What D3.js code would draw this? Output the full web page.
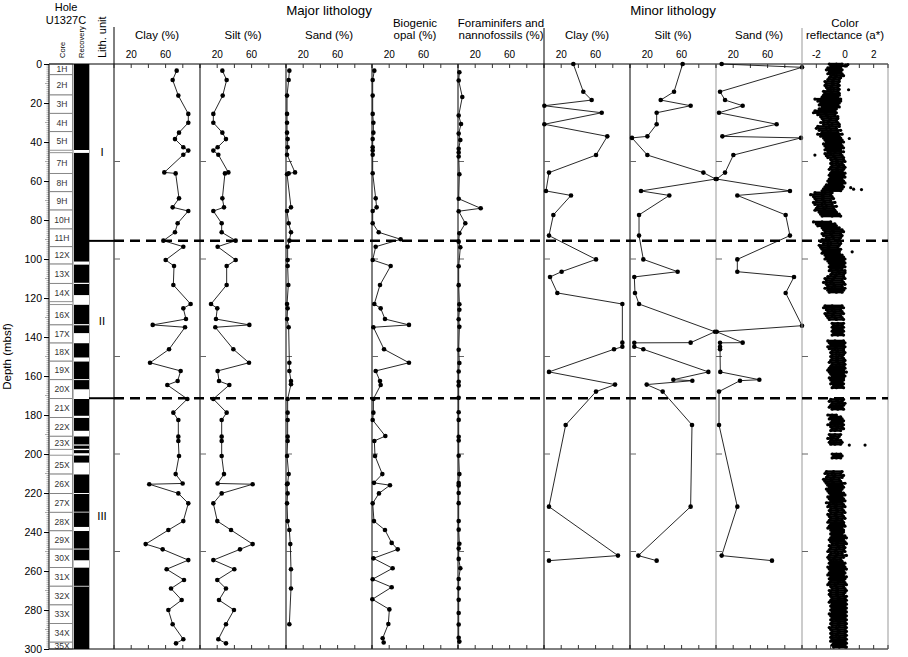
<!DOCTYPE html>
<html><head><meta charset="utf-8">
<script src="https://cdn.jsdelivr.net/npm/d3@7/dist/d3.min.js"></script>
<style>body{margin:0;background:#fff}svg{display:block;font-family:"Liberation Sans",Arial,Helvetica,sans-serif}</style>
</head><body><svg id="c" width="908" height="657"></svg>
<script>
// ---------- DATA (depth in mbsf, value) ----------
const majorClay = [[3.4,72.9],[8.2,68.2],[16.2,74.8],[25.6,86.4],[30.1,86.4],[35.2,75.6],[38.5,70.9],[42.7,80.6],[44.4,86.4],[46.5,80.6],[55.6,58.5],[56.1,71.7],[68.9,75.6],[73.5,68.2],[75.4,86.4],[81.7,74],[86.3,70.9],[90.6,57.4],[93.7,80.6],[100.5,60.1],[103.6,69.8],[113.3,69],[123.1,89.1],[125.3,80.6],[130.8,83.7],[133.8,45],[135,82.6],[146.3,64],[153.2,41.9],[157.4,77.5],[162.6,74],[164.6,62],[171.8,85.3],[178.8,69],[182.6,74.8],[191.1,74.8],[193.3,74.8],[201,75.6],[210.3,71.7],[215.1,79.8],[215.5,41],[220.2,74.8],[225.3,86.4],[234.4,80.6],[239,63.2],[246.2,36.8],[248.9,56.6],[254.4,86.4],[259.1,61.2],[264.6,81.4],[269,66.3],[274.9,78.7],[280,63.2],[287.3,68.2],[295,80.6],[297.1,72.1]];
const majorSilt = [[3.4,26],[8.2,31],[16.2,26.4],[25.6,15.5],[30.1,15.5],[35.2,26],[38.5,30.2],[42.7,20.5],[44.4,15.5],[46.5,21.3],[55.6,33],[56.1,29],[68.9,26],[73.5,27.9],[75.4,15.5],[81.7,25.2],[86.3,25.2],[90.6,41.5],[93.7,20.5],[100.5,41.5],[103.6,31],[113.3,31],[123.1,12.8],[125.3,20.1],[130.8,18.6],[133.8,57.4],[135,17.8],[146.3,38.8],[153.2,57],[157.4,20.5],[162.6,22.1],[164.6,34.1],[171.8,15.5],[178.8,31],[182.6,25.2],[191.1,25.2],[193.3,25.2],[201,25.2],[210.3,27.9],[215.1,20.5],[215.5,61.2],[220.2,25.2],[225.3,15.5],[234.4,20.1],[239,36.1],[246.2,61.2],[248.9,46.5],[254.4,15.5],[259.1,39.9],[264.6,20.1],[269,30.2],[274.9,22.1],[280,39.5],[287.3,30.2],[295,21.3],[297.1,30.2]];
const majorSand = [[3.4,3.9],[8.2,3.1],[16.2,1.2],[25.6,1.2],[30.1,1.2],[35.2,1.2],[38.5,1.9],[42.7,1.9],[46.5,1.2],[55.6,10.5],[56.1,3.1],[56.5,1.2],[73.5,5.8],[75.4,1.2],[81.7,3.1],[86.3,5.8],[90.6,3.9],[93.7,1.9],[100.5,1.9],[103.6,1.9],[113.3,2.7],[123.1,1.2],[125.3,1.9],[130.8,1.2],[135,3.1],[153.2,3.9],[157.4,3.9],[162.6,5.8],[164.2,5.8],[171.8,1.9],[178.8,1.9],[182.6,1.9],[191.1,1.9],[193.3,1.9],[201,1.2],[210.3,3.1],[215.1,1.9],[215.5,1.2],[220.2,1.9],[225.3,1.2],[234.4,1.9],[239,3.9],[246.2,5],[259.1,5.8],[269,5.8],[287.3,3.9]];
const biogenicOpal = [[3.4,2.7],[8.2,0.8],[16.2,0.8],[25.6,0.8],[30.1,1.6],[35.2,1.6],[38.5,0.8],[42.7,0.8],[44.4,0.8],[46.5,0.8],[56,0.8],[68.9,4.3],[73.5,5.4],[75.4,0.8],[81.7,0.8],[86.3,7.8],[89.9,33.3],[93.7,4.3],[100.5,0.8],[103.6,21.7],[113.3,9.3],[123.1,2.7],[125.3,10.1],[130.8,15.1],[133.8,43],[135,1.6],[146.3,14],[153.2,43],[157.4,4.3],[162.6,9.3],[164.6,10.1],[171.8,1.6],[178.8,1.6],[182.6,0.8],[190.8,15.5],[193.3,2.7],[201,3.5],[210.3,12],[214.8,2.3],[216,20.9],[220.2,8.1],[225.3,0.8],[234.4,2.3],[239,15.1],[245.6,22.9],[248.9,29.9],[253.5,1.6],[258.6,24],[264.2,0.8],[268.3,22.9],[274.5,0.4],[279.7,20.2],[287.2,19],[294.5,12.4],[296.7,13.6]];
const foramNanno = [[4.2,1.6],[8.5,0.8],[16.9,5],[26.4,0.8],[30.8,3.5],[35.7,0.8],[39,2.7],[43.5,0.8],[45.4,0.8],[47.4,0.8],[56.5,1.6],[69.1,0.8],[74,26.4],[75.5,0.8],[81.7,8.5],[86.8,1.6],[91.1,0.8],[94,2.7],[103.7,0.8],[113.4,0.8],[123.2,1.6],[126,1.6],[130.9,0.8],[134.8,1.6],[146.5,0.8],[153.3,1.6],[157.7,0.8],[163,0.8],[164.9,0.8],[171.2,0.8],[178.6,0.8],[182.5,0.8],[191.2,0.8],[193.1,0.8],[200.9,0.8],[210.3,1.6],[214.9,0.8],[216.1,0.8],[220,0.8],[225.2,0.8],[234.4,0.8],[238.8,0.8],[246,1.6],[248.5,0.8],[253.8,0.8],[258.6,2.7],[264.1,0.8],[268.9,0.8],[274.8,0.8],[281.5,0.8],[287.4,0.8],[294.2,0.8],[296.2,1.6]];
const minorClay = [[0,34.1],[14.2,45.7],[18.5,55.4],[21.4,0.4],[25,67.1],[30.9,0.4],[37.1,73.6],[46.7,60.5],[55.7,5.8],[65.1,2.3],[67.4,31.4],[77.4,10.9],[88,5.8],[100.2,60.5],[106.5,20.5],[109.2,7],[117.4,15.5],[123.1,91.1],[142.9,91.1],[145,91.1],[146.3,81.4],[157.9,5.8],[164.4,82.6],[168,60.5],[185.1,25.2],[227,5.8],[252.1,86],[254.7,5.8]];
const minorSilt = [[0,61.2],[14.2,51.2],[18.5,35.7],[21.4,70.5],[25,31],[30.9,31],[37.1,20.2],[37.9,2.3],[46.7,20.2],[55.7,85.3],[59,99.6],[65.1,12.8],[67.4,45.7],[77.4,10.5],[88,10.5],[100.2,15.5],[106.5,55.4],[109.2,5],[117.4,5.8],[123.1,10.5],[137.3,98.8],[142.9,70.5],[143,5],[145,5],[146.3,15.5],[157.9,91.1],[161.9,50.4],[162.4,72.5],[164.4,19.4],[168,38],[185.1,72.1],[227,70.5],[252.1,9.7],[254.7,31]];
const minorSand = [[0,6.6],[1.7,100],[14.2,4.7],[18.5,10.5],[21.4,31],[25,3.5],[30.9,70.5],[37.1,7.4],[37.9,98.8],[46.7,20.2],[55.7,10.5],[59,0.8],[65.1,86],[67.4,24.8],[77.4,81],[88,86],[100.2,24.8],[106.5,24.8],[109.2,90.7],[117.4,81],[134.2,100],[137.3,0.8],[142.9,31],[143,4.7],[145,4.7],[146.3,4.7],[157.9,5],[161.9,50.4],[162.4,27.9],[168,3.5],[185.1,3.5],[227,24.8],[252.1,6.6],[254.7,65.1]];

// Color reflectance a*: [depth, value, value, value] read along the cloud
const reflectance = [
[0,-1.1,-0.6,-0.2],[1,-1.0,-0.7,0.1],[2,-1.2,-0.8,-0.3],[3,-1.3,-0.6,-0.2],[4,-1.1,-0.7,-0.3],[5,-1.2,-0.8,-0.2],[6,-1.0,-0.6,-0.1],[7,-1.1,-0.7,-0.3],[8,-1.2,-0.8,-0.4],[9,-1.4,-0.9,-0.4],
[10,-1.3,-0.8,-0.5],[11,-1.4,-0.9,-0.4],[12,-1.3,-1.0,-0.5],[13,-1.2,-0.8,-0.4],[14,-1.5,-1.0,-0.5],[15,-1.4,-0.9,-0.4],[16,-1.5,-1.1,-0.4],[17,-1.6,-1.0,-0.5],[18,-2.1,-1.2,-0.3],[19,-1.9,-1.3,-0.3],
[20,-1.7,-1.1,-0.4],[21,-1.8,-1.2,-0.5],[22,-1.6,-1.0,-0.4],[23,-1.8,-1.3,-0.6],[24,-2.1,-1.5,-0.7],[25,-2.2,-1.4,-0.6],[26,-1.9,-1.3,-0.7],[27,-1.7,-1.2,-0.5],[28,-1.6,-1.0,-0.5],[29,-1.5,-1.1,-0.6],
[30,-1.7,-1.2,-0.5],[31,-1.5,-0.9,-0.4],[32,-1.9,-1.1,-0.4],[33,-2.0,-1.3,-0.6],[34,-1.8,-1.0,-0.3],[35,-1.6,-1.2,-0.5],[36,-1.9,-1.1,-0.2],[37,-1.7,-1.0,-0.4],[38,-1.5,-0.9,-0.3],[39,-1.4,-0.8,-0.2],
[40,-1.3,-0.9,-0.1],[41,-1.5,-1.0,-0.3],[42,-1.4,-0.8,-0.2],[43,-1.3,-0.7,-0.1],[44,-1.4,-0.9,-0.3],[45,-1.2,-0.7,-0.1],[46,-1.4,-1.0,-0.3],[47,-1.3,-0.8,-0.2],[48,-1.2,-0.7,-0.1],[49,-1.0,-0.6,-0.1],
[50,-0.9,-0.5,0.0],[51,-1.0,-0.6,-0.2],[52,-0.9,-0.4,-0.1],[53,-1.0,-0.5,0.0],[54,-1.1,-0.6,-0.1],[55,-0.9,-0.5,-0.2],[56,-1.0,-0.4,0.0],[57,-1.1,-0.6,-0.1],[58,-1.0,-0.5,0.0],[59,-1.1,-0.7,-0.2],
[60,-1.2,-0.6,-0.1],[61,-1.1,-0.5,0.0],[62,-1.3,-0.8,-0.2],[63,-1.4,-0.8,-0.1],[64,-1.5,-0.9,-0.2],[65,-1.6,-1.0,-0.3],[66,-2.1,-1.4,-0.9],[67,-2.4,-1.6,-1.0],[68,-2.2,-1.5,-0.9],[69,-2.1,-1.6,-0.8],
[70,-2.0,-1.5,-1.0],[71,-2.2,-1.4,-0.7],[72,-2.1,-1.6,-0.9],[73,-1.9,-1.3,-0.6],[74,-2.0,-1.5,-0.8],[75,-2.1,-1.4,-0.7],[76,-1.8,-1.2,-0.6],[77,-1.7,-1.1,-0.4],[78,-1.6,-0.9,-0.3],
[81,-2.2,-1.6,-1.0],[82,-2.0,-1.4,-0.7],[83,-1.9,-1.2,-0.6],[84,-1.6,-1.0,-0.4],[85,-1.5,-0.9,-0.2],[86,-1.4,-0.8,-0.1],[87,-1.6,-1.0,-0.3],[88,-1.5,-0.9,-0.2],[89,-1.3,-0.8,-0.3],
[90,-1.6,-1.1,-0.4],[91,-1.7,-1.2,-0.5],[92,-1.5,-1.0,-0.3],[93,-1.8,-1.2,-0.4],[94,-1.7,-1.1,-0.5],[95,-1.6,-1.2,-0.3],[96,-1.5,-1.0,-0.4],[97,-1.6,-1.1,-0.4],[98,-1.4,-0.9,-0.2],[99,-1.3,-0.8,-0.1],
[100,-1.4,-0.9,0.0],[101,-1.2,-0.7,-0.1],[102,-1.1,-0.6,0.0],[103,-1.0,-0.5,-0.1],[104,-1.1,-0.7,0.0],[105,-1.0,-0.6,-0.2],[106,-1.1,-0.5,0.0],[107,-0.9,-0.4,0.0],[108,-1.0,-0.6,-0.1],[109,-1.2,-0.7,-0.1],
[110,-1.4,-0.8,0.0],[111,-1.3,-0.9,-0.2],[112,-1.5,-1.0,-0.1],[113,-1.3,-0.8,0.0],[114,-1.2,-0.7,-0.2],[115,-1.4,-0.9,0.0],[116,-1.2,-0.8,-0.1],[117,-1.1,-0.6,-0.2],
[124,-1.4,-0.9,-0.2],[125,-1.5,-0.8,-0.1],[126,-1.3,-0.9,-0.3],[127,-1.2,-0.7,-0.2],[128,-1.4,-0.8,-0.1],[129,-1.3,-0.9,-0.3],[130,-1.2,-0.7,-0.2],[131,-1.1,-0.6,-0.1],
[133,-0.9,-0.5,-0.1],[134,-0.8,-0.5,-0.2],[135,-0.9,-0.6,-0.1],[136,-0.8,-0.4,-0.2],[137,-0.9,-0.5,-0.1],[138,-0.8,-0.6,-0.2],[139,-0.9,-0.5,-0.1],
[142,-1.2,-0.7,-0.1],[143,-1.1,-0.6,0.0],[144,-1.0,-0.5,-0.1],[145,-1.2,-0.6,0.0],[146,-1.1,-0.7,-0.1],[147,-0.9,-0.5,-0.1],[148,-1.0,-0.6,0.0],[149,-0.9,-0.4,-0.1],
[150,-1.0,-0.6,-0.2],[151,-0.9,-0.5,-0.1],[152,-1.0,-0.6,0.0],[153,-1.1,-0.5,-0.1],[154,-0.9,-0.4,0.0],[155,-1.0,-0.6,-0.1],[156,-1.1,-0.7,0.0],[157,-1.2,-0.6,-0.1],[158,-1.1,-0.5,0.1],[159,-1.0,-0.6,-0.1],
[160,-0.9,-0.5,0.0],[161,-1.1,-0.7,-0.1],[162,-1.0,-0.5,-0.1],[163,-0.9,-0.6,-0.2],[164,-1.0,-0.5,-0.1],[165,-0.8,-0.5,-0.2],[166,-0.9,-0.6,-0.1],
[172,-1.0,-0.6,-0.1],[173,-1.1,-0.5,-0.2],[174,-0.9,-0.4,0.0],[175,-1.0,-0.6,-0.1],[176,-1.1,-0.7,-0.2],[177,-0.9,-0.5,-0.1],
[180,-1.2,-0.9,-0.6],[181,-1.0,-0.7,-0.3],[182,-1.1,-0.6,-0.2],[183,-0.9,-0.5,-0.1],[184,-1.0,-0.6,-0.2],[185,-1.2,-0.7,-0.1],[186,-1.0,-0.5,-0.2],[187,-0.9,-0.6,-0.1],[188,-1.0,-0.7,-0.3],
[190,-1.1,-0.7,-0.3],[191,-1.0,-0.8,-0.4],[192,-1.2,-0.9,-0.5],[193,-1.0,-0.6,-0.3],[194,-1.1,-0.8,-0.2],[195,-1.0,-0.7,-0.3],
[200,-0.9,-0.6,-0.3],[201,-0.8,-0.5,-0.2],[202,-0.9,-0.6,-0.3],
[209,-1.3,-0.8,-0.2],[210,-1.4,-0.9,-0.3],[211,-1.2,-0.7,-0.1],[212,-1.3,-0.8,-0.2],[213,-1.5,-1.0,-0.4],[214,-1.4,-0.9,-0.3],[215,-1.3,-0.8,0.0],[216,-1.2,-0.7,-0.2],[217,-1.1,-0.6,-0.1],[218,-1.3,-0.8,-0.2],[219,-1.2,-0.7,-0.3],
[220,-1.1,-0.6,-0.1],[221,-1.0,-0.5,0.0],[222,-1.2,-0.7,-0.2],[223,-1.1,-0.6,-0.1],[224,-1.0,-0.5,0.0],[225,-1.3,-0.8,-0.2],[226,-1.1,-0.6,-0.1],[227,-1.2,-0.7,0.0],[228,-1.0,-0.6,-0.2],[229,-1.1,-0.5,-0.1],
[230,-1.0,-0.6,0.0],[231,-1.2,-0.7,-0.2],[232,-1.1,-0.6,-0.1],[233,-1.0,-0.5,0.0],[234,-1.1,-0.6,-0.2],[235,-1.2,-0.7,-0.1],[236,-1.0,-0.5,-0.1],[237,-1.1,-0.6,0.0],[238,-1.2,-0.8,-0.2],[239,-1.0,-0.6,-0.1],
[240,-0.9,-0.5,-0.1],[241,-1.0,-0.6,-0.2],[242,-0.9,-0.5,0.0],[243,-1.0,-0.4,0.1],[244,-1.1,-0.6,-0.1],[245,-1.0,-0.5,0.0],[246,-0.9,-0.6,0.1],[247,-1.1,-0.5,-0.1],[248,-1.0,-0.4,0.0],[249,-1.1,-0.6,-0.1],
[250,-1.2,-0.7,0.0],[251,-1.0,-0.5,-0.2],[252,-1.1,-0.6,0.1],[253,-1.2,-0.7,-0.1],[254,-1.1,-0.8,-0.3],[255,-1.0,-0.6,-0.2],[256,-1.1,-0.5,0.0],[257,-1.0,-0.6,-0.1],[258,-1.2,-0.7,0.0],[259,-1.1,-0.6,0.1],
[260,-1.0,-0.5,-0.1],[261,-1.1,-0.6,0.0],[262,-1.2,-0.7,-0.1],[263,-1.0,-0.5,0.1],[264,-1.1,-0.6,0.0],[265,-1.0,-0.4,-0.1],[266,-1.1,-0.5,0.0],[267,-1.2,-0.7,0.1],[268,-1.0,-0.6,-0.1],[269,-0.9,-0.5,0.0],
[270,-1.1,-0.6,0.1],[271,-1.0,-0.5,0.0],[272,-1.1,-0.6,-0.1],[273,-1.0,-0.5,0.1],[274,-0.9,-0.4,0.0],[275,-1.0,-0.5,0.1],[276,-1.1,-0.6,0.0],[277,-0.9,-0.4,0.1],[278,-1.0,-0.5,0.0],[279,-0.9,-0.4,0.1],
[280,-1.0,-0.6,0.0],[281,-0.9,-0.5,0.1],[282,-1.1,-0.5,0.0],[283,-1.0,-0.4,0.1],[284,-0.9,-0.5,0.0],[285,-1.0,-0.6,0.1],[286,-0.9,-0.4,0.0],[287,-1.0,-0.5,0.1],[288,-0.9,-0.4,0.0],[289,-1.1,-0.6,0.1],
[290,-1.0,-0.5,0.0],[291,-0.9,-0.4,0.1],[292,-1.0,-0.5,0.0],[293,-0.9,-0.6,0.1],[294,-1.0,-0.4,0.0],[295,-0.9,-0.5,0.1],[296,-1.0,-0.6,0.0],[297,-0.8,-0.4,0.1],[298,-0.9,-0.5,0.0],[299,-0.8,-0.4,0.1]];
const reflectanceOutliers = [[0.3,0.2],[0.5,0.05],[13.2,0.25],[38.2,0.3],[46.7,-2.1],[63.4,0.4],[64.2,0.6],[64.4,1.15],[96.3,0.5],[195.4,0.3],[195.4,1.4]];

// Cores: [label, top, bottom]
const cores = [["1H",0,5.5],["2H",5.5,15.9],["3H",15.9,25.3],["4H",25.3,34.7],["5H",34.7,44.2],["7H",45.5,56.1],["8H",56.1,65.5],["9H",65.5,74.9],["10H",74.9,84.6],["11H",84.6,93.7],["12X",93.7,102.6],["13X",102.6,112.5],["14X",112.5,121.9],["16X",123.4,133.8],["17X",133.8,143.1],["18X",143.1,152.4],["19X",152.4,161.9],["20X",161.9,171.6],["21X",171.6,181.3],["22X",181.3,190.9],["23X",190.9,197.6],["25X",200.6,210.3],["26X",210.3,220.3],["27X",220.3,229.9],["28X",229.9,239.4],["29X",239.4,248.8],["30X",248.8,258.2],["31X",258.2,267.8],["32X",267.8,277.4],["33X",277.4,286.9],["34X",286.9,296.5],["35X",296.5,300]];
// Recovered intervals [top, bottom]
const recovery = [[0,44.1],[45.6,101.3],[102.9,112.2],[112.8,118.5],[123.5,133.4],[134,138],[143.2,150.5],[152.6,161.6],[162.1,166.8],[171.8,180.4],[181.5,188.1],[191,195.1],[195.7,197.3],[198,199.6],[200.8,204.4],[210.5,220],[220.5,229.6],[230,237.4],[239.5,248.5],[249,254.5],[258.3,267.6],[268,300]];
const lithUnits = [["I",45],["II",132],["III",232]];
const unitBoundaries = [90.7,171.4];
const pctTicks = [0,20,40,60,80,100];
const pctLabels = [20,60];
const reflTicks = [-3,-2,-1,0,1,2,3];
const reflLabels = [-2,0,2];
const depthLabels = d3.range(0,301,20);

// ---------- DRAW ----------
const svg = d3.select("#c");
const FONT = '"Liberation Sans",Arial,Helvetica,sans-serif';
const y = d3.scaleLinear().domain([0,300]).range([64,649]);
const yTop = y(0), yBot = y(300);

// Depth axis
const depthAxis = d3.axisLeft(y).tickValues(depthLabels).tickSize(5).tickPadding(2).tickFormat(d3.format("d"));
const gA = svg.append("g").attr("transform","translate(49,0)").call(depthAxis);
gA.select(".domain").remove();
gA.selectAll("text").attr("font-size",10.5).attr("font-family",FONT).attr("fill","#000");
gA.selectAll("line").attr("stroke","#000");
svg.append("g").selectAll("line").data(d3.range(0,301,1).filter(d=>d%20)).join("line")
  .attr("x1",d=>d%10===0?45:46.5).attr("x2",49).attr("y1",d=>y(d)).attr("y2",d=>y(d))
  .attr("stroke","#777").attr("stroke-width",0.6);
svg.append("line").attr("x1",49).attr("x2",49).attr("y1",yTop).attr("y2",yBot).attr("stroke","#000");
svg.append("text").attr("transform",`translate(11,${(yTop+yBot)/2}) rotate(-90)`).attr("text-anchor","middle")
  .attr("font-size",11.5).text("Depth (mbsf)");

// Core column
const gc = svg.append("g");
gc.selectAll("rect.core").data(cores).join("rect").attr("class","core")
  .attr("x",49.5).attr("width",23).attr("y",d=>y(d[1])).attr("height",d=>y(d[2])-y(d[1]))
  .attr("fill","#fff").attr("stroke","#777").attr("stroke-width",0.8);
gc.selectAll("text").data(cores).join("text").attr("x",62).attr("y",d=>(y(d[1])+y(d[2]))/2+3)
  .attr("text-anchor","middle").attr("font-size",8.5).attr("fill","#333").text(d=>d[0]);
svg.append("line").attr("x1",73).attr("x2",73).attr("y1",yTop).attr("y2",yBot).attr("stroke","#888");
// Recovery
svg.append("g").selectAll("rect").data(recovery).join("rect")
  .attr("x",74).attr("width",15).attr("y",d=>y(d[0])).attr("height",d=>y(d[1])-y(d[0])).attr("fill","#000");
svg.append("line").attr("x1",89.5).attr("x2",89.5).attr("y1",yTop).attr("y2",yBot).attr("stroke","#999").attr("stroke-width",0.8);

// Header of left columns
svg.append("text").attr("x",66).attr("y",11).attr("text-anchor","middle").attr("font-size",11).text("Hole");
svg.append("text").attr("x",66).attr("y",24).attr("text-anchor","middle").attr("font-size",11).text("U1327C");
svg.append("text").attr("transform","translate(65,58) rotate(-90)").attr("font-size",7.5).text("Core");
svg.append("text").attr("transform","translate(84,58) rotate(-90)").attr("font-size",7.5).text("Recovery");
svg.append("text").attr("transform","translate(106,58) rotate(-90)").attr("font-size",11).text("Lith. unit");

// Lith unit labels & boundaries
svg.append("g").selectAll("text").data(lithUnits).join("text").attr("x",102).attr("y",d=>y(d[1])+4)
  .attr("text-anchor","middle").attr("font-size",11.5).text(d=>d[0]);
svg.append("g").selectAll("line").data(unitBoundaries).join("line").attr("x1",89).attr("x2",114)
  .attr("y1",d=>y(d)).attr("y2",d=>y(d)).attr("stroke","#000").attr("stroke-width",2);

// Frame lines
svg.append("line").attr("x1",49).attr("x2",888).attr("y1",yTop).attr("y2",yTop).attr("stroke","#000");
svg.append("line").attr("x1",49).attr("x2",888).attr("y1",yBot).attr("y2",yBot).attr("stroke","#000");

// Panels
const panels = [
  {x0:114,data:majorClay,title:["Clay (%)"],col:"#000"},
  {x0:200,data:majorSilt,title:["Silt (%)"],col:"#000"},
  {x0:286,data:majorSand,title:["Sand (%)"],col:"#000"},
  {x0:372,data:biogenicOpal,title:["Biogenic","opal (%)"],col:"#000"},
  {x0:458,data:foramNanno,title:["Foraminifers and","nannofossils (%)"],col:"#000"},
  {x0:544,data:minorClay,title:["Clay (%)"],col:"#000"},
  {x0:630,data:minorSilt,title:["Silt (%)"],col:"#000"},
  {x0:716,data:minorSand,title:["Sand (%)"],col:"#999"}
];
const leftTickDepths = [50,100,150,200,250];
panels.forEach(p=>{
  const x = d3.scaleLinear().domain([0,100]).range([p.x0,p.x0+86]);
  const g = svg.append("g");
  g.append("line").attr("x1",p.x0).attr("x2",p.x0).attr("y1",yTop).attr("y2",yBot).attr("stroke",p.col);
  g.selectAll("line.tt").data(pctTicks).join("line").attr("class","tt").attr("x1",d=>x(d)).attr("x2",d=>x(d))
    .attr("y1",yTop).attr("y2",yTop+4).attr("stroke","#333");
  g.selectAll("line.bt").data(pctTicks).join("line").attr("class","bt").attr("x1",d=>x(d)).attr("x2",d=>x(d))
    .attr("y1",yBot).attr("y2",yBot-4).attr("stroke","#333");
  g.selectAll("line.lt").data(leftTickDepths).join("line").attr("class","lt").attr("x1",p.x0).attr("x2",p.x0+6)
    .attr("y1",d=>y(d)).attr("y2",d=>y(d)).attr("stroke","#666");
  g.selectAll("text.tl").data(pctLabels).join("text").attr("class","tl").attr("x",d=>x(d)).attr("y",58)
    .attr("text-anchor","middle").attr("font-size",10).text(d=>d);
  p.title.forEach((t,i)=>g.append("text").attr("x",p.x0+43).attr("y",39-(p.title.length-1-i)*12.5)
    .attr("text-anchor","middle").attr("font-size",11.5).text(t));
  g.append("path").datum(p.data).attr("fill","none").attr("stroke","#111").attr("stroke-width",0.9)
    .attr("d",d3.line().x(d=>x(d[1])).y(d=>y(d[0])));
  g.selectAll("circle").data(p.data).join("circle").attr("cx",d=>x(d[1])).attr("cy",d=>y(d[0])).attr("r",2.3).attr("fill","#000");
});

// Reflectance panel
const xr = d3.scaleLinear().domain([-3,3]).range([802,888]);
const gr = svg.append("g");
gr.append("line").attr("x1",802).attr("x2",802).attr("y1",yTop).attr("y2",yBot).attr("stroke","#999");
gr.append("line").attr("x1",888).attr("x2",888).attr("y1",yTop).attr("y2",yBot).attr("stroke","#999");
gr.selectAll("line.tt").data(reflTicks).join("line").attr("class","tt").attr("x1",d=>xr(d)).attr("x2",d=>xr(d))
  .attr("y1",yTop).attr("y2",yTop+4).attr("stroke","#333");
gr.selectAll("line.bt").data(reflTicks).join("line").attr("class","bt").attr("x1",d=>xr(d)).attr("x2",d=>xr(d))
  .attr("y1",yBot).attr("y2",yBot-4).attr("stroke","#333");
gr.selectAll("line.lt").data(leftTickDepths).join("line").attr("class","lt").attr("x1",802).attr("x2",808)
  .attr("y1",d=>y(d)).attr("y2",d=>y(d)).attr("stroke","#666");
gr.selectAll("text.tl").data(reflLabels).join("text").attr("class","tl").attr("x",d=>xr(d)).attr("y",58)
  .attr("text-anchor","middle").attr("font-size",10).text(d=>d);
gr.append("text").attr("x",845).attr("y",26.5).attr("text-anchor","middle").attr("font-size",11.5).text("Color");
gr.append("text").attr("x",845).attr("y",39).attr("text-anchor","middle").attr("font-size",11.5).text("reflectance (a*)");
// dense cloud: each reading row spans its measured values
gr.selectAll("line.band").data(reflectance).join("line").attr("class","band")
  .attr("x1",r=>xr(d3.min(r.slice(1)))).attr("x2",r=>xr(d3.max(r.slice(1))))
  .attr("y1",r=>y(r[0])).attr("y2",r=>y(r[0])).attr("stroke","#000").attr("stroke-width",2.4);
const reflPts = [];
reflectance.forEach(r=>{ for(let i=1;i<r.length;i++) reflPts.push([r[0],r[i]]); });
reflectanceOutliers.forEach(r=>reflPts.push(r));
gr.selectAll("circle").data(reflPts).join("circle").attr("cx",d=>xr(d[1])).attr("cy",d=>y(d[0])).attr("r",1.6).attr("fill","#000");

// Group titles and separators
svg.append("text").attr("x",329).attr("y",15).attr("text-anchor","middle").attr("font-size",13.3).text("Major lithology");
svg.append("text").attr("x",673).attr("y",15).attr("text-anchor","middle").attr("font-size",13.3).text("Minor lithology");
svg.append("line").attr("x1",114).attr("x2",114).attr("y1",27).attr("y2",yTop).attr("stroke","#000");
svg.append("line").attr("x1",544).attr("x2",544).attr("y1",28).attr("y2",yTop).attr("stroke","#000");
svg.append("line").attr("x1",802).attr("x2",802).attr("y1",28).attr("y2",yTop).attr("stroke","#999");

// Unit boundary dashed lines
svg.append("g").selectAll("line").data(unitBoundaries).join("line").attr("x1",114).attr("x2",888)
  .attr("y1",d=>y(d)).attr("y2",d=>y(d)).attr("stroke","#000").attr("stroke-width",2.5).attr("stroke-dasharray","10,6");
</script></body></html>
